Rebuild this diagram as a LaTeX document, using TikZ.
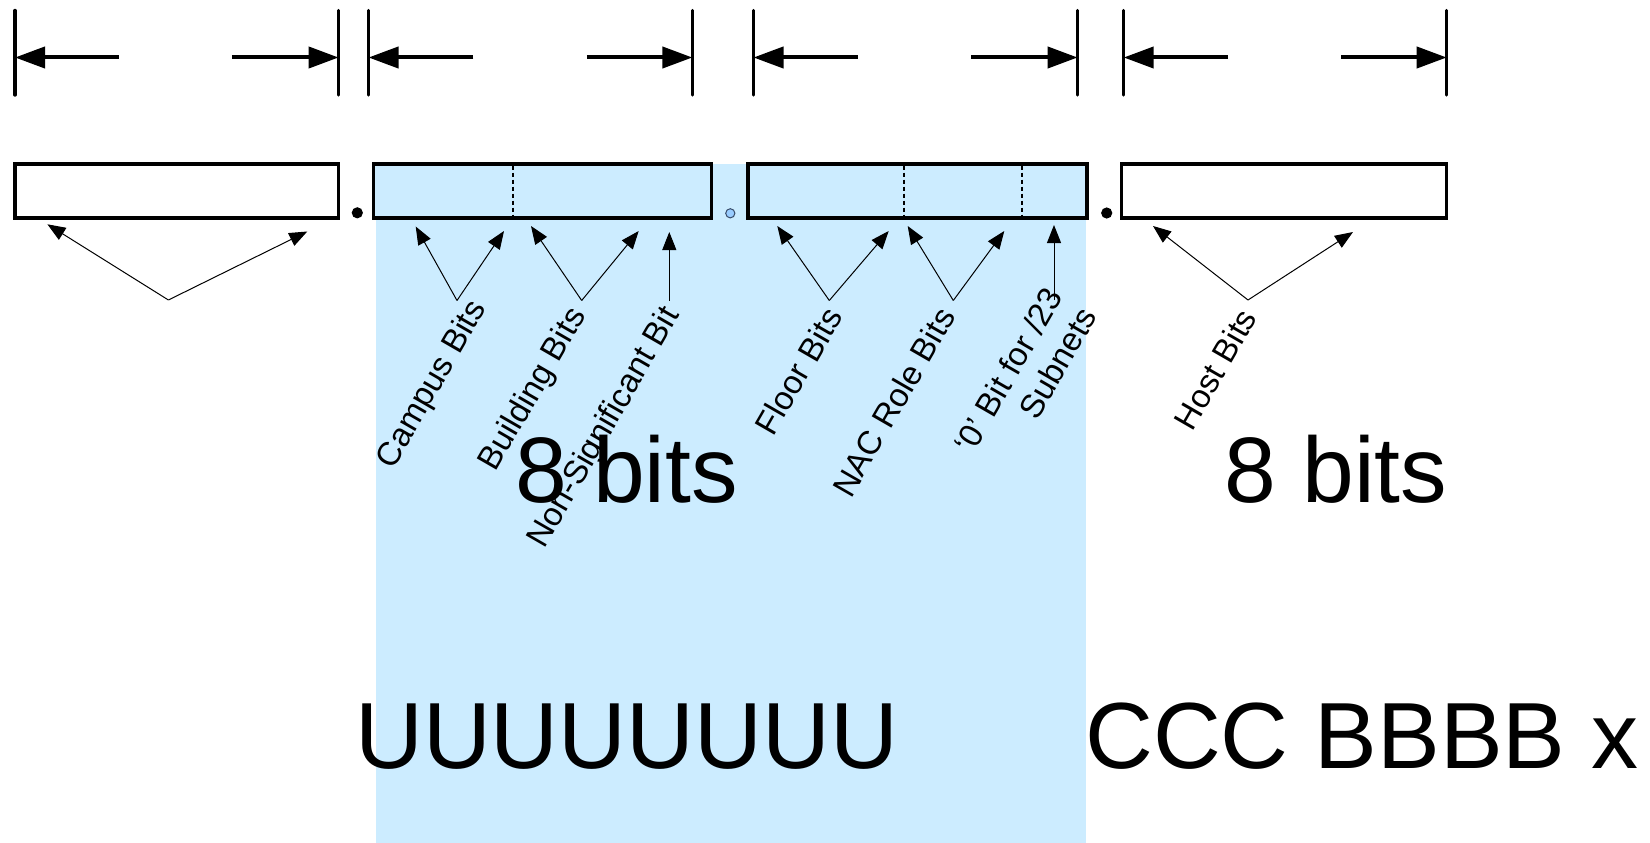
\documentclass[tikz,border=0pt]{standalone}
\usepackage{fontspec}
\setmainfont{Liberation Sans}
\usetikzlibrary{arrows.meta}
\definecolor{netblue}{RGB}{204,236,255}
\definecolor{dotfill}{RGB}{153,204,255}
\definecolor{dotline}{RGB}{55,75,105}
\begin{document}
\begin{tikzpicture}[x=1pt,y=-1pt,
  octet/.style={draw=black,line width=3.3pt,line join=miter},
  divider/.style={line width=1.8pt,dash pattern=on 4pt off 3pt},
  dimtick/.style={line width=3.4pt,line cap=round},
  dimarrow/.style={line width=4pt,-{Triangle[length=30pt,width=21pt]}},
  callout/.style={line width=1pt,-{Triangle[length=18pt,width=14pt]}},
  lbl/.style={font=\fontsize{33}{39}\selectfont,rotate=60,inner sep=0pt},
  big/.style={font=\fontsize{93}{100}\selectfont,inner sep=0pt,anchor=base},
  bigrow/.style={font=\fontsize{94}{100}\selectfont,inner sep=0pt,anchor=base west}]

% canvas
\fill[white] (0,0) rectangle (1650,843);
\useasboundingbox (0,0) rectangle (1650,843);

% shaded network portion (second and third octets)
\fill[netblue] (376,164) rectangle (1086,843);

% octet boxes
\draw[octet] (15,164) rectangle (338.6,218);
\draw[octet,fill=netblue] (373.3,164) rectangle (711.4,218);
\draw[octet,fill=netblue] (748,164) rectangle (1087,218);
\draw[octet] (1121.5,164) rectangle (1446.5,218);

% bit-field dividers
\draw[divider] (513.3,165.6) -- (513.3,216.4);
\draw[divider] (904.3,165.6) -- (904.3,216.4);
\draw[divider] (1021.6,165.6) -- (1021.6,216.4);

% separating dots
\fill[black] (357.3,212.8) circle (5.6);
\filldraw[fill=dotfill,draw=dotline,line width=1pt] (730.3,213.3) circle (4.6);
\fill[black] (1106.7,213) circle (5.6);

% width markers over each octet
\foreach \l/\a/\b/\r [count=\i] in {15/118.5/231.9/338.6, 368.5/473.4/586.8/692.4, 753.5/857.9/971.3/1077.6, 1123.7/1228.2/1341.1/1446.7} {
  \coordinate (dl\i) at (\l,57.5);
  \coordinate (dr\i) at (\r,57.5);
  \coordinate (al\i) at (\a,57.5);
  \coordinate (ar\i) at (\b,57.5);
  \draw[dimtick] (\l,10.5) -- (\l,95);
  \draw[dimtick] (\r,10.5) -- (\r,95);
  \draw[dimarrow] (al\i) -- (dl\i);
  \draw[dimarrow] (ar\i) -- (dr\i);
}

% callout points
\coordinate (netA) at (168.4,300);
\coordinate (netL) at (47.4,224.3);
\coordinate (netR) at (307.3,231.5);
\coordinate (campA) at (457,300.5);
\coordinate (campL) at (415.7,226.5);
\coordinate (campR) at (504,231);
\coordinate (bldA) at (581.7,300.5);
\coordinate (bldL) at (531,226);
\coordinate (bldR) at (638.7,231);
\coordinate (nsA) at (669.3,300.5);
\coordinate (nsT) at (669.3,232);
\coordinate (flA) at (829.3,300.5);
\coordinate (flL) at (777.3,226);
\coordinate (flR) at (888.7,231);
\coordinate (nacA) at (953.3,300.5);
\coordinate (nacL) at (907.7,226);
\coordinate (nacR) at (1004.3,231);
\coordinate (zeroA) at (1054,300);
\coordinate (zeroT) at (1054,225);
\coordinate (hostA) at (1248,300);
\coordinate (hostL) at (1153,226);
\coordinate (hostR) at (1353,232);

\draw[callout] (netA) -- (netL);
\draw[callout] (netA) -- (netR);
\draw[callout] (campA) -- (campL);
\draw[callout] (campA) -- (campR);
\draw[callout] (bldA) -- (bldL);
\draw[callout] (bldA) -- (bldR);
\draw[callout] (nsA) -- (nsT);
\draw[callout] (flA) -- (flL);
\draw[callout] (flA) -- (flR);
\draw[callout] (nacA) -- (nacL);
\draw[callout] (nacA) -- (nacR);
\draw[callout] (zeroA) -- (zeroT);
\draw[callout] (hostA) -- (hostL);
\draw[callout] (hostA) -- (hostR);

% field labels
\node[lbl] (campus) at (432.5,385) {Campus Bits};
\node[lbl] (building) at (533.7,390) {Building Bits};
\node[lbl] (nonsig) at (605,428) {Non-Significant Bit};
\node[lbl] (floor) at (798.5,371) {Floor Bits};
\node[lbl] (nac) at (893.5,402) {NAC Role Bits};
\node[lbl,align=right] (zero) at (1025,380) {‘0’ Bit for /23\\Subnets};
\node[lbl] (host) at (1215,369) {Host Bits};

% octet sizes
\node[big] (bitsA) at (626.7,502) {8 bits};
\node[big] (bitsB) at (1336,502) {8 bits};

% bit patterns
\node[bigrow] (upat) at (355,768) {UUUUUUUU};
\node[bigrow] (cpat) at (1085,768) {CCC BBBB x};
\end{tikzpicture}
\end{document}
